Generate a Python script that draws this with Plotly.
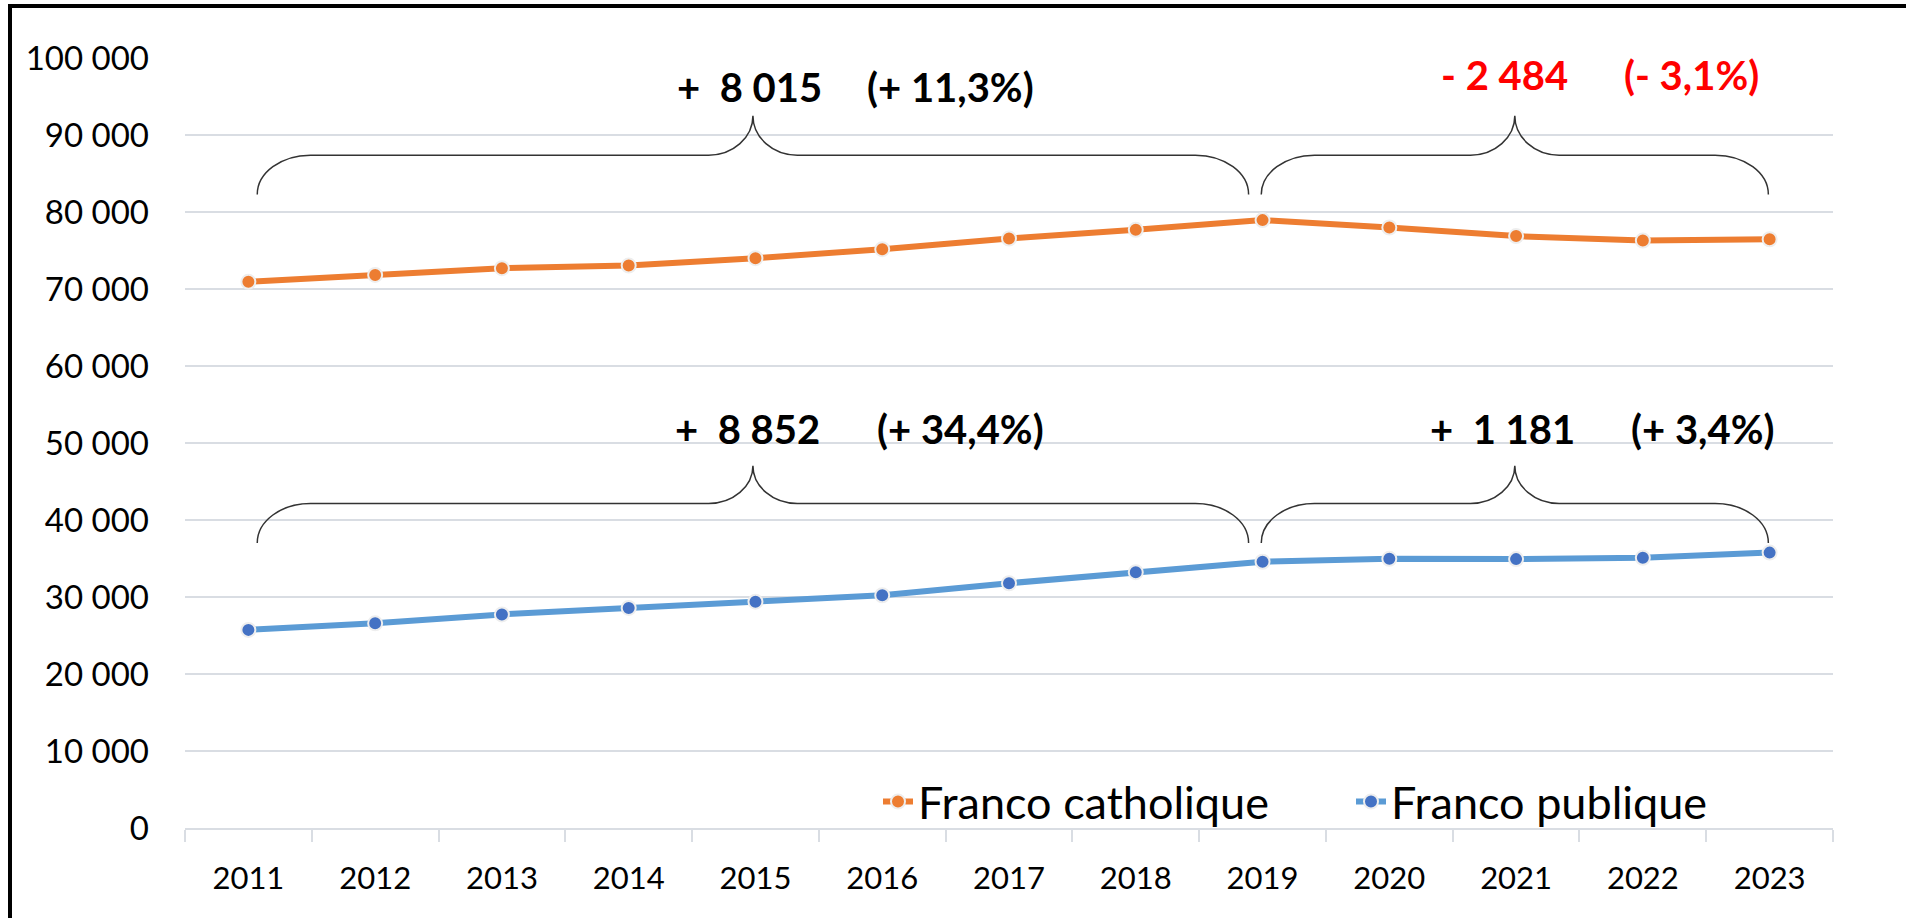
import plotly.graph_objects as go

# ---------------- data ----------------
years = ["2011", "2012", "2013", "2014", "2015", "2016", "2017",
         "2018", "2019", "2020", "2021", "2022", "2023"]
franco_catholique = [70930, 71830, 72700, 73040, 74000, 75170, 76550,
                     77690, 78945, 77990, 76870, 76290, 76461]
franco_publique = [25730, 26580, 27740, 28580, 29390, 30230, 31790,
                   33220, 34582, 34960, 34920, 35090, 35763]
y_ticks = [0, 10000, 20000, 30000, 40000, 50000, 60000, 70000, 80000, 90000, 100000]

# annotation labels (text, x position in category units, y in data units, color)
labels = [
    ("+\u00a0\u00a08\u00a0015", 3.95, 96200, "#000000"),
    ("(+\u00a011,3%)", 5.54, 96200, "#000000"),
    ("-\u00a02\u00a0484", 9.91, 97750, "#FF0000"),
    ("(-\u00a03,1%)", 11.38, 97750, "#FF0000"),
    ("+\u00a0\u00a08\u00a0852", 3.94, 51800, "#000000"),
    ("(+\u00a034,4%)", 5.62, 51800, "#000000"),
    ("+\u00a0\u00a01\u00a0181", 9.89, 51800, "#000000"),
    ("(+\u00a03,4%)", 11.47, 51800, "#000000"),
]

# braces: (x start, x end, y of ends, y of bar, y of tip)
braces = [
    (0.07, 7.89, 82280, 87380, 92500),
    (7.99, 11.99, 82280, 87380, 92500),
    (0.07, 7.89, 37020, 42150, 47050),
    (7.99, 11.99, 37020, 42150, 47050),
]

FONT = "Lato, 'Open Sans', sans-serif"
xs = list(range(len(years)))

fig = go.Figure()
fig.add_trace(go.Scatter(
    x=xs, y=franco_catholique, name="Franco catholique", mode="lines+markers",
    line=dict(color="#ED7D31", width=6),
    marker=dict(color="#ED7D31", size=14, line=dict(color="#EEEEEE", width=2)),
))
fig.add_trace(go.Scatter(
    x=xs, y=franco_publique, name="Franco publique", mode="lines+markers",
    line=dict(color="#5B9BD5", width=6),
    marker=dict(color="#4472C4", size=14, line=dict(color="#EEEEEE", width=2)),
))


def brace_path(a, b, y0, y1, y2, rx=0.42, tx=0.35, k=0.552):
    m = (a + b) / 2
    p = [
        f"M {a},{y0}",
        f"C {a},{y0 + k*(y1-y0)} {a + rx - k*rx},{y1} {a + rx},{y1}",
        f"L {m - tx},{y1}",
        f"C {m - tx + k*tx},{y1} {m},{y2 - k*(y2-y1)} {m},{y2}",
        f"C {m},{y2 - k*(y2-y1)} {m + tx - k*tx},{y1} {m + tx},{y1}",
        f"L {b - rx},{y1}",
        f"C {b - rx + k*rx},{y1} {b},{y0 + k*(y1-y0)} {b},{y0}",
    ]
    return " ".join(p)


shapes = []
for (a, b, y0, y1, y2) in braces:
    shapes.append(dict(type="path", xref="x", yref="y", path=brace_path(a, b, y0, y1, y2),
                       line=dict(color="#333333", width=1.5)))

# outer frame (top and left edges visible)
L, R, T, B = 185, 73, 58, 90
W, H = 1906, 918
pw, ph = W - L - R, H - T - B
shapes.append(dict(type="rect", xref="paper", yref="paper",
                   x0=(10 - L) / pw, x1=(W + 20 - L) / pw,
                   y0=(H - B - (H + 20)) / ph, y1=(H - B - 6) / ph,
                   line=dict(color="#000000", width=4)))

annotations = []
for (t, x, y, c) in labels:
    annotations.append(dict(text=f"<b>{t}</b>", x=x, y=y, xref="x", yref="y",
                            showarrow=False, xanchor="center", yanchor="middle",
                            font=dict(family=FONT, size=40, color=c)))

fig.update_layout(
    width=W, height=H,
    margin=dict(l=L, r=R, t=T, b=B),
    paper_bgcolor="white", plot_bgcolor="white",
    separators=", ",
    font=dict(family=FONT, color="#000000"),
    shapes=shapes, annotations=annotations,
    showlegend=True,
    legend=dict(orientation="h", x=(878 - L) / pw, y=0.034, xanchor="left", yanchor="middle",
                bgcolor="rgba(0,0,0,0)", font=dict(size=45, color="#000000"),
                itemwidth=30, traceorder="normal",
                entrywidth=428, entrywidthmode="pixels"),
)
fig.update_xaxes(
    range=[-0.5, len(years) - 0.5], tickmode="array", tickvals=xs, ticktext=years,
    ticks="", showgrid=False, zeroline=False,
    showline=True, linecolor="#D9DDE3", linewidth=2,
    tickfont=dict(family=FONT, size=31, color="#000000"), ticklabelstandoff=22,
    minor=dict(tickmode="array", tickvals=[i - 0.5 for i in range(len(years) + 1)],
               ticks="outside", ticklen=12, tickcolor="#D9DDE3", tickwidth=2, showgrid=False),
)
fig.update_yaxes(
    range=[0, 100000], tickmode="array", tickvals=y_ticks, tickformat=",d",
    showgrid=True, gridcolor="#D9DDE3", gridwidth=2, zeroline=False,
    ticks="", tickfont=dict(family=FONT, size=33, color="#000000"), ticklabelstandoff=35,
)

fig.write_html("out.html", config={"displayModeBar": False},
               post_script="document.body.style.margin='0';")
